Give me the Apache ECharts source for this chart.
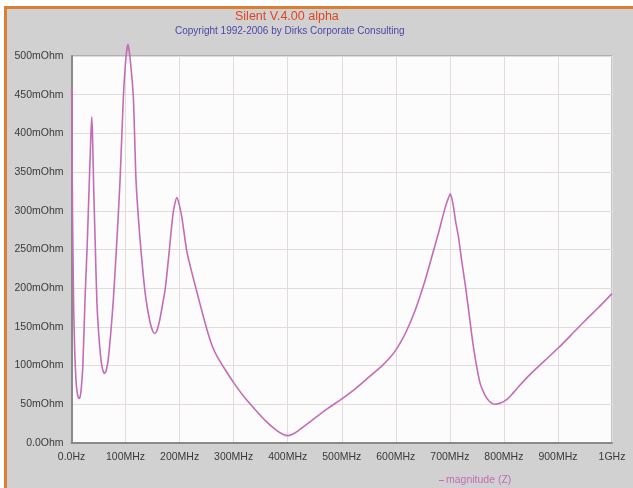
<!DOCTYPE html>
<html>
<head>
<meta charset="utf-8">
<style>
  html, body { margin: 0; padding: 0; background: #ffffff; }
  #chart { width: 633px; height: 488px; }
</style>
<script src="https://cdn.jsdelivr.net/npm/echarts@6/dist/echarts.min.js"></script>
</head>
<body>
<div id="chart"></div>
<script>
// Frequency sweep, MHz
const freqMHz = [0.3, 2, 4, 6, 8, 10, 12, 14, 16, 18, 21, 25, 29, 33, 36, 37.5, 39, 41, 44, 47, 51, 55, 58, 61, 64, 68, 73, 77.4, 84, 89.8, 96, 101, 104.5, 108, 114.4, 119.4, 126, 133, 138, 145, 150, 154, 158, 163, 170, 173, 176, 181, 186, 190, 195, 200, 205, 213, 222, 232, 241, 250, 260, 270, 285, 300, 320, 340, 360, 380, 392, 400, 408, 420, 435, 450, 475, 500, 525, 550, 575, 590, 600, 608, 620, 635, 645, 655, 662, 670, 680, 688.5, 695, 701, 706, 711, 716, 722, 729, 735, 741, 748, 756, 765, 773, 783, 795, 805, 815, 830, 849, 875, 901, 925, 950, 975, 1000];
// Impedance magnitude, mOhm
const magnitude = [460, 290, 175, 118, 85, 68, 60, 57.5, 60, 70, 100, 185, 255, 339, 400, 421, 395, 330, 255, 182, 135, 105, 94, 90, 93, 108, 145, 185, 262, 339, 447, 500, 515, 500, 447, 339, 270, 215, 185, 157, 145, 141.5, 145, 158, 185, 197, 215, 249, 285, 305, 317, 306, 288, 249, 222, 195, 171, 148, 126, 111, 94, 78, 59, 43, 28, 16, 11, 9.5, 11, 16, 24, 32, 45, 57, 70, 85, 100, 111, 120, 129, 145, 170, 190, 212, 229, 249, 274, 297, 312, 322, 308, 285, 266, 235, 202, 170, 137, 105, 77, 62, 54, 50, 52, 56, 63, 75, 89, 106, 123, 140, 158, 175, 193];

const xTicks = { 0: '0.0Hz', 1000: '1GHz' };
const yTicks = { 0: '0.0Ohm' };

const points = freqMHz.map((f, i) => [f, magnitude[i]]);

const chart = echarts.init(document.getElementById('chart'), null, { renderer: 'canvas' });
const font = 'Liberation Sans, Arial, sans-serif';

chart.setOption({
  animation: false,
  backgroundColor: '#ffffff',
  graphic: [
    { type: 'rect', z: -10, shape: { x: 4, y: 6, width: 640, height: 490 }, style: { fill: '#d98034' } },
    { type: 'rect', z: -9, shape: { x: 7, y: 9, width: 640, height: 490 }, style: { fill: '#d1d1d2' } },
    { type: 'text', left: 235, top: 10, style: { text: 'Silent V.4.00 alpha', fill: '#e2451f', font: '12.5px ' + font } },
    { type: 'text', left: 175, top: 26, style: { text: 'Copyright 1992-2006 by Dirks Corporate Consulting', fill: '#4a48a6', font: '10px ' + font } }
  ],
  legend: {
    show: true,
    left: 434,
    top: 470,
    itemWidth: 5,
    itemHeight: 1,
    itemGap: 2,
    icon: 'rect',
    textStyle: { color: '#c46cb6', fontSize: 10.5, fontFamily: font, padding: [0, 0, 0, -3] },
    data: ['magnitude (Z)']
  },
  grid: {
    left: 71.5, right: 21, top: 56, bottom: 45,
    show: true,
    backgroundColor: '#fcfcfc',
    borderColor: '#8e8e8e',
    borderWidth: 1
  },
  xAxis: {
    type: 'value',
    min: 0, max: 1000, interval: 100,
    axisLine: { show: true, onZero: false, lineStyle: { color: '#8a8a8a', width: 2 } },
    axisTick: { show: false },
    splitLine: { show: true, lineStyle: { color: '#e4dcdc', width: 1 } },
    axisLabel: {
      margin: 9,
      color: '#3a3a3a',
      fontSize: 10.5,
      fontFamily: font,
      formatter: v => xTicks[v] || (v + 'MHz')
    }
  },
  yAxis: {
    type: 'value',
    min: 0, max: 500, interval: 50,
    axisLine: { show: true, lineStyle: { color: '#8a8a8a', width: 2 } },
    axisTick: { show: false },
    splitLine: { show: true, lineStyle: { color: '#e4dcdc', width: 1 } },
    axisLabel: {
      margin: 8,
      color: '#3a3a3a',
      fontSize: 10.5,
      fontFamily: font,
      formatter: v => yTicks[v] || (v + 'mOhm')
    }
  },
  series: [{
    name: 'magnitude (Z)',
    type: 'line',
    data: points,
    showSymbol: false,
    clip: false,
    smooth: 0.2,
    lineStyle: { color: '#c46cb6', width: 1.6 },
    itemStyle: { color: '#c46cb6' }
  }]
});
</script>
</body>
</html>
